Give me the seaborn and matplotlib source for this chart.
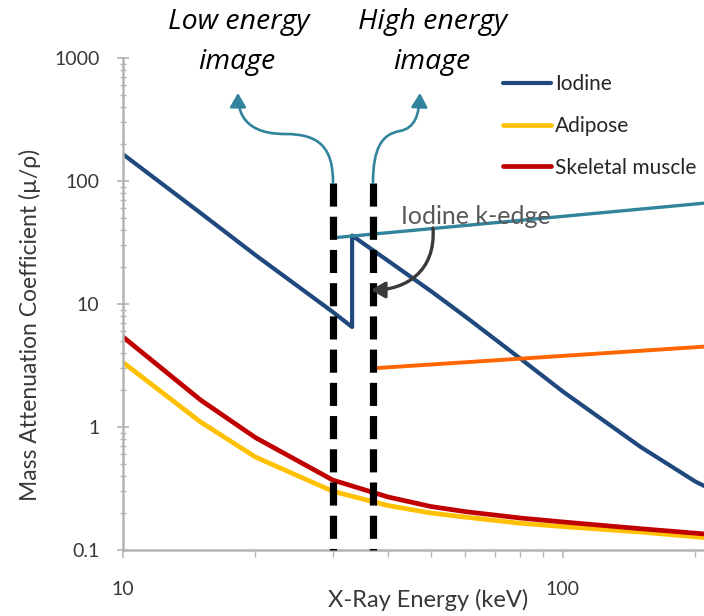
import numpy as np
import pandas as pd
import seaborn as sns
import matplotlib
matplotlib.use("Agg")
import matplotlib.pyplot as plt
from matplotlib.path import Path
from matplotlib.patches import FancyArrowPatch
from matplotlib.ticker import FixedLocator, LogLocator, NullFormatter, FuncFormatter

# ---------------- data ----------------
energy_kev = [10, 15, 20, 30, 33.17, 33.17, 40, 50, 60, 80, 100, 150, 200, 210]
iodine = [165, 55, 25, 8.6, 6.5, 36, 22.5, 12.8, 7.9, 3.6, 1.94, 0.69, 0.36, 0.33]

tissue_kev = [10, 15, 20, 30, 40, 50, 60, 80, 100, 150, 200, 210]
adipose = [3.35, 1.10, 0.57, 0.30, 0.23, 0.20, 0.185, 0.165, 0.155, 0.14, 0.128, 0.126]
muscle = [5.4, 1.66, 0.82, 0.37, 0.27, 0.226, 0.205, 0.182, 0.169, 0.149, 0.137, 0.135]

teal_kev = [30, 209]
teal_val = [34.5, 66]
orange_kev = [37, 209]
orange_val = [3.0, 4.5]

window_kev = [30, 37]
window_top = 96

series_names = ["Iodine", "Adipose", "Skeletal muscle"]
y_ticks = [0.1, 1, 10, 100, 1000]
x_ticks = [10, 100]

# ---------------- style ----------------
sns.set_style("white")
plt.rcParams["font.family"] = ["Lato", "DejaVu Sans"]

W, H = 704, 616
def fx(x):
    return x / W
def fy(y):
    return 1 - y / H

fig = plt.figure(figsize=(W / 100, H / 100), dpi=100)
ax = fig.add_axes([fx(123), fy(550), 581 / W, 492 / H])

navy = "#1f497d"
yellow = "#ffc000"
red = "#c00000"
teal = "#31849b"
orange = "#ff6600"
gray = "#404040"

sns.lineplot(x=energy_kev, y=iodine, color=navy, linewidth=3.0, estimator=None,
             sort=False, ax=ax, label=series_names[0])
sns.lineplot(x=tissue_kev, y=adipose, color=yellow, linewidth=3.4, estimator=None,
             sort=False, ax=ax, label=series_names[1])
sns.lineplot(x=tissue_kev, y=muscle, color=red, linewidth=3.4, estimator=None,
             sort=False, ax=ax, label=series_names[2])
sns.lineplot(x=teal_kev, y=teal_val, color=teal, linewidth=2.4, estimator=None,
             sort=False, ax=ax)
sns.lineplot(x=orange_kev, y=orange_val, color=orange, linewidth=2.8, estimator=None,
             sort=False, ax=ax)

for xv in window_kev:
    ax.plot([xv, xv], [window_top, 0.1], color="black", lw=5.2,
            linestyle=(0, (3.2, 1.4)), dash_capstyle="butt", clip_on=False, zorder=5)

ax.set_xscale("log")
ax.set_yscale("log")
ax.set_xlim(10, 209.2)
ax.set_ylim(0.1, 1000)

for s in ["top", "right"]:
    ax.spines[s].set_visible(False)
for s in ["left", "bottom"]:
    ax.spines[s].set_color("#b4b4b4")
    ax.spines[s].set_linewidth(1.8)

ax.yaxis.set_major_locator(FixedLocator(y_ticks))
ax.yaxis.set_minor_locator(LogLocator(base=10, subs=np.arange(2, 10)))
ax.yaxis.set_major_formatter(FuncFormatter(lambda v, p: f"{v:g}"))
ax.yaxis.set_minor_formatter(NullFormatter())
ax.xaxis.set_major_locator(FixedLocator(x_ticks))
ax.xaxis.set_minor_locator(LogLocator(base=10, subs=np.arange(2, 10)))
ax.xaxis.set_major_formatter(FuncFormatter(lambda v, p: f"{v:g}"))
ax.xaxis.set_minor_formatter(NullFormatter())

ax.tick_params(axis="y", which="major", left=True, direction="inout", length=8,
               width=1.2, color="#b4b4b4", pad=13, labelsize=14, labelcolor="#383838")
ax.tick_params(axis="y", which="minor", left=True, direction="inout", length=5,
               width=1.0, color="#b4b4b4")
ax.tick_params(axis="x", which="major", bottom=True, direction="out", length=6,
               width=1.2, color="#b4b4b4", pad=16, labelsize=14, labelcolor="#383838")
ax.tick_params(axis="x", which="minor", bottom=True, direction="out", length=5,
               width=1.0, color="#b4b4b4")
ax.set_xlabel("")
ax.set_ylabel("")

fig.text(fx(428), fy(600), "X-Ray Energy (keV)", ha="center", va="center",
         fontsize=17, color="#383838")
fig.text(fx(30), fy(325), "Mass Attenuation Coefficient (\u00b5/\u03c1)", rotation=90,
         ha="center", va="center", fontsize=16.5, color="#383838")

handles = ax.get_lines()[:3]
ax.legend(handles=handles, labels=series_names, loc="upper left",
          bbox_to_anchor=(fx(503), fy(74)), bbox_transform=fig.transFigure,
          frameon=False, fontsize=15, handlelength=2.3, handletextpad=0.2,
          labelspacing=1.05, borderpad=0, borderaxespad=0, labelcolor="#262626")

# annotations
ital = dict(ha="center", va="center", fontsize=20.5, style="italic",
            family=["Open Sans", "DejaVu Sans"], color="black")
fig.text(fx(239), fy(22), "Low energy", **ital)
fig.text(fx(237), fy(62), "image", **ital)
fig.text(fx(433), fy(22), "High energy", **ital)
fig.text(fx(432), fy(62), "image", **ital)

fig.text(fx(476), fy(216), "Iodine k-edge", ha="center", va="center", fontsize=18,
         color="#595959")

def curve(points):
    verts = [(fx(x), fy(y)) for x, y in points]
    codes = [Path.MOVETO] + [Path.CURVE4] * (len(verts) - 1)
    return Path(verts, codes)

low_path = curve([(333, 183), (333, 148), (320, 134), (285, 134),
                  (250, 134), (238, 118), (238, 93)])
high_path = curve([(373, 183), (373, 148), (382, 134), (400, 131),
                   (415, 128), (419, 115), (420, 93)])
kedge_path = curve([(433, 228), (436, 272), (405, 290), (371, 290)])

for p, col, lw in [(low_path, teal, 1.9), (high_path, teal, 1.9), (kedge_path, "#3a3a3a", 2.4)]:
    arr = FancyArrowPatch(path=p, arrowstyle="-|>,head_length=0.6,head_width=0.35",
                          mutation_scale=14, color=col, lw=lw, transform=fig.transFigure)
    fig.add_artist(arr)

fig.savefig("out.png", dpi=100)
